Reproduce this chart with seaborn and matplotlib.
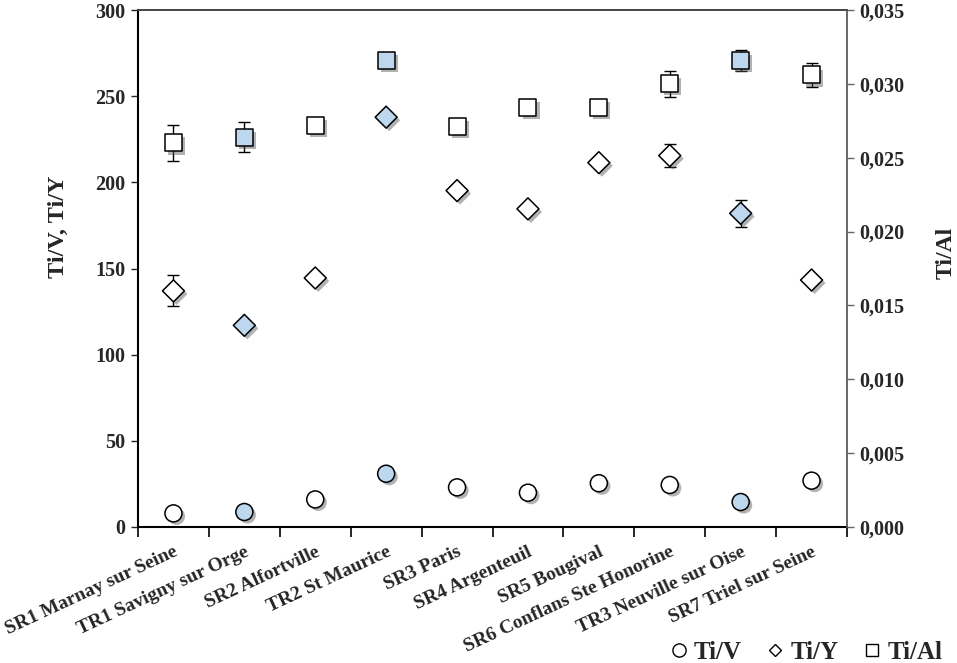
import numpy as np
import pandas as pd
import matplotlib
matplotlib.use("Agg")
import matplotlib.pyplot as plt
import matplotlib.patheffects as pe
from matplotlib.lines import Line2D
from matplotlib.ticker import FuncFormatter, FixedLocator
import seaborn as sns

sites = ["SR1 Marnay sur Seine", "TR1 Savigny sur Orge", "SR2 Alfortville",
         "TR2 St Maurice", "SR3 Paris", "SR4 Argenteuil", "SR5 Bougival",
         "SR6 Conflans Ste Honorine", "TR3 Neuville sur Oise", "SR7 Triel sur Seine"]
site_type = ["SR", "TR", "SR", "TR", "SR", "SR", "SR", "SR", "TR", "SR"]

ti_v = [7.9, 8.7, 16.0, 30.9, 23.0, 19.9, 25.4, 24.4, 14.5, 26.9]
ti_y = [137.0, 117.0, 144.5, 237.8, 195.2, 184.6, 211.4, 215.5, 182.0, 143.3]
ti_y_err = [9.0, np.nan, np.nan, np.nan, np.nan, np.nan, np.nan, 6.5, 7.8, np.nan]
ti_al = [0.0260, 0.0264, 0.0272, 0.0316, 0.0271, 0.0284, 0.0284, 0.0300, 0.0316, 0.0306]
ti_al_err = [0.0012, 0.0010, np.nan, np.nan, np.nan, np.nan, np.nan, 0.0009, 0.0007, 0.0008]

left_ticks = [0, 50, 100, 150, 200, 250, 300]
right_ticks = [0.0, 0.005, 0.010, 0.015, 0.020, 0.025, 0.030, 0.035]

df = pd.DataFrame({"site": sites, "type": site_type, "x": np.arange(len(sites)),
                   "ti_v": ti_v, "ti_y": ti_y, "ti_y_err": ti_y_err,
                   "ti_al": ti_al, "ti_al_err": ti_al_err})

sns.set_style("white")
plt.rcParams["font.family"] = ["Liberation Serif", "DejaVu Serif"]
plt.rcParams["font.weight"] = "bold"

fig = plt.figure(figsize=(9.57, 6.63), dpi=100)
ax = fig.add_axes([138/957, 1-527/663, (847-138)/957, (527-10)/663])
ax2 = ax.twinx()

blue = "#bdd7ee"
pal = {"SR": "white", "TR": blue}
shadow = [pe.SimplePatchShadow(offset=(2.2, -2.2), shadow_rgbFace="#555555", alpha=0.45), pe.Normal()]

ax.errorbar(df["x"], df["ti_y"], yerr=df["ti_y_err"], fmt="none", ecolor="black",
            elinewidth=1, capsize=4, capthick=1, zorder=1)
ax2.errorbar(df["x"], df["ti_al"], yerr=df["ti_al_err"], fmt="none", ecolor="black",
             elinewidth=1, capsize=4, capthick=1, zorder=1)

sns.scatterplot(data=df, x="x", y="ti_v", hue="type", palette=pal, marker="o", s=150,
                edgecolor="black", linewidth=1.1, legend=False, ax=ax, zorder=3)
sns.scatterplot(data=df, x="x", y="ti_y", hue="type", palette=pal, marker="D", s=125,
                edgecolor="black", linewidth=1.1, legend=False, ax=ax, zorder=3)
sns.scatterplot(data=df, x="x", y="ti_al", hue="type", palette=pal, marker="s", s=150,
                edgecolor="black", linewidth=1.1, legend=False, ax=ax2, zorder=3)
for coll in ax.collections + ax2.collections:
    if coll.get_offsets().shape[0] == len(sites):
        coll.set_path_effects(shadow)

ax.set_xlim(-0.5, len(sites) - 0.5)
ax.set_ylim(0, 300)
ax2.set_ylim(0, 0.035)
ax.set_yticks(left_ticks)
ax2.set_yticks(right_ticks)
ax2.yaxis.set_major_formatter(FuncFormatter(lambda v, p: f"{v:.3f}".replace(".", ",")))

ax.set_xticks(df["x"])
ax.set_xticklabels(sites, rotation=25, ha="right", rotation_mode="anchor", fontsize=14, fontweight="bold")
ax.tick_params(axis="x", which="major", length=0, pad=12)
ax.xaxis.set_minor_locator(FixedLocator(np.arange(-0.5, len(sites), 1.0)))
ax.tick_params(axis="x", which="minor", length=7, width=1.2, direction="out", color="black", bottom=True)
ax.tick_params(axis="y", length=5, width=1, direction="out", labelsize=14.5, left=True, pad=4)
ax2.tick_params(axis="y", length=5, width=1, direction="out", labelsize=14.5, right=True, color="#666666", pad=4)
for lab in ax.get_yticklabels() + ax2.get_yticklabels():
    lab.set_fontweight("bold")

ax.set_xlabel("")
ax.set_ylabel("Ti/V, Ti/Y", fontsize=17.5, fontweight="bold")
ax2.set_ylabel("Ti/Al", fontsize=17, fontweight="bold", rotation=90)
ax.yaxis.set_label_coords(-0.098, 0.58)
ax2.yaxis.set_label_coords(1.125, 0.53)

for sp in ["left", "bottom"]:
    ax.spines[sp].set_color("black"); ax.spines[sp].set_linewidth(1.5)
for a in (ax, ax2):
    a.spines["top"].set_color("#444444"); a.spines["top"].set_linewidth(1.2)
    a.spines["right"].set_color("#666666"); a.spines["right"].set_linewidth(1.2)
ax2.spines["left"].set_visible(False)
ax2.spines["bottom"].set_visible(False)

handles = [Line2D([], [], ls="none", marker="o", ms=9.5, mfc="white", mec="black", mew=1),
           Line2D([], [], ls="none", marker="D", ms=6.5, mfc="white", mec="black", mew=1),
           Line2D([], [], ls="none", marker="s", ms=9, mfc="white", mec="black", mew=1)]
fig.legend(handles, ["Ti/V", "Ti/Y", "Ti/Al"], loc="lower right", bbox_to_anchor=(1.008, -0.035),
           ncol=3, frameon=False, handlelength=0.7, handletextpad=0.25, columnspacing=1.0,
           prop={"size": 18, "weight": "bold"})

fig.savefig("out.png", dpi=100)
